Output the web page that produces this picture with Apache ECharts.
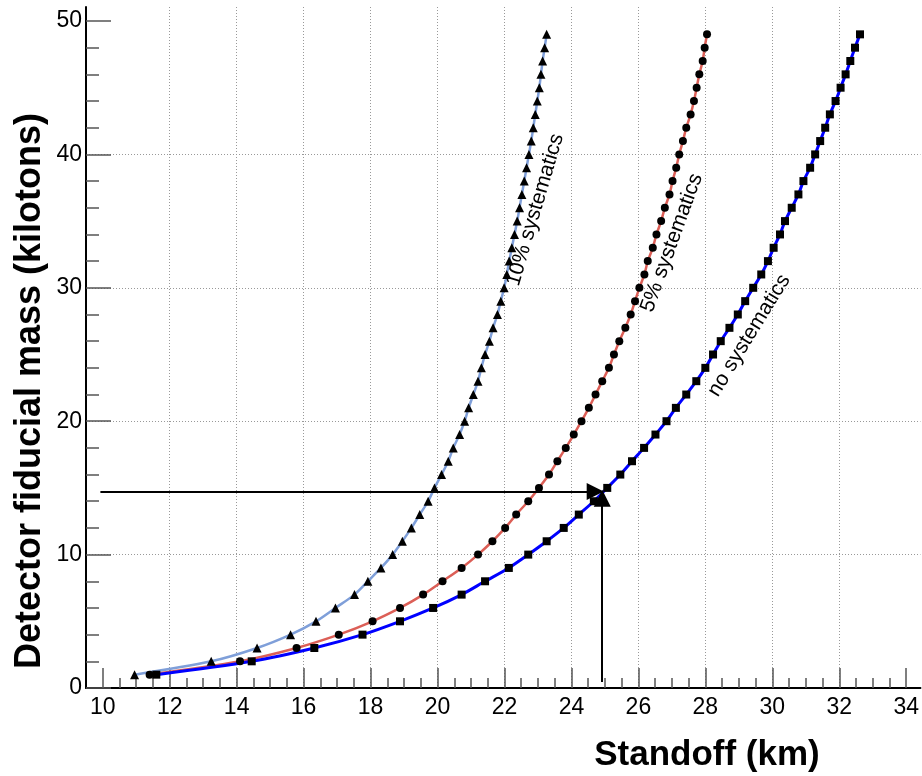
<!DOCTYPE html>
<html><head><meta charset="utf-8">
<script src="https://cdn.jsdelivr.net/npm/echarts@6/dist/echarts.min.js"></script>
<style>html,body{margin:0;padding:0;background:#fff}#c{width:922px;height:776px}</style>
</head><body><div id="c"></div>
<script>
// Detector fiducial mass (kilotons) for each point
const masses = [1,2,3,4,5,6,7,8,9,10,11,12,13,14,15,16,17,18,19,20,21,22,23,24,25,26,27,28,29,30,31,32,33,34,35,36,37,38,39,40,41,42,43,44,45,46,47,48,49];
// Standoff (km) — no systematics
const standoffNoSys = [11.60,14.45,16.32,17.76,18.88,19.87,20.72,21.42,22.13,22.71,23.26,23.77,24.22,24.67,25.07,25.46,25.81,26.17,26.51,26.84,27.12,27.43,27.73,28.00,28.23,28.46,28.72,28.97,29.19,29.43,29.67,29.87,30.04,30.23,30.38,30.58,30.78,30.93,31.13,31.28,31.43,31.58,31.72,31.89,32.04,32.19,32.33,32.47,32.62];
// Standoff (km) — 5% systematics
const standoff5 = [11.40,14.10,15.79,17.05,18.06,18.88,19.57,20.15,20.72,21.21,21.64,22.02,22.35,22.71,23.03,23.33,23.58,23.83,24.07,24.30,24.52,24.72,24.92,25.12,25.27,25.43,25.61,25.77,25.90,26.03,26.18,26.28,26.43,26.54,26.68,26.79,26.93,27.02,27.13,27.22,27.33,27.43,27.56,27.66,27.74,27.82,27.92,27.98,28.05];
// Standoff (km) — 10% systematics
const standoff10 = [10.95,13.24,14.61,15.61,16.37,16.95,17.52,17.92,18.31,18.66,18.95,19.22,19.47,19.72,19.91,20.12,20.32,20.47,20.66,20.81,20.93,21.07,21.21,21.31,21.42,21.55,21.66,21.79,21.89,21.99,22.07,22.14,22.22,22.30,22.38,22.45,22.52,22.59,22.66,22.73,22.80,22.86,22.92,22.98,23.04,23.09,23.14,23.20,23.26];
// tick labels
const xTicks = [10,12,14,16,18,20,22,24,26,28,30,32,34];
const yTicks = [0,10,20,30,40,50];
// arrow annotations (data coords)
const hArrow = [[9.93,14.73],[24.71,14.73]];
const vArrow = [[24.92,0.45],[24.92,14.22]];
// curve labels
const curveLabels = ['10% systematics','5% systematics','no systematics'];
const curveLabelCoords = [[22.92,35.84],[27.0,33.37],[29.31,26.43]];
const curveLabelAngles = [73.5,70,58.5];

function pts(xs){ return xs.map((x,i)=>[x, masses[i]]); }
const tickFont = "'Liberation Sans Narrow','Liberation Sans',Arial,sans-serif";
const chart = echarts.init(document.getElementById('c'), null, {renderer:'canvas'});
const tickLine = {color:'#555', width:1.5};
chart.setOption({
  animation:false,
  backgroundColor:'#fff',
  grid:{left:86, right:0, top:7, bottom:88},
  xAxis:{type:'value', min:9.5, max:34.425, splitNumber:12, minInterval:2, maxInterval:2,
    axisLine:{show:true, onZero:false, lineStyle:{color:'#000', width:2}},
    axisTick:{show:true, inside:true, length:20, customValues:xTicks, lineStyle:tickLine},
    minorTick:{show:true, splitNumber:4, length:10, lineStyle:tickLine},
    axisLabel:{customValues:xTicks, margin:8, fontSize:23, fontFamily:tickFont, color:'#000'},
    splitLine:{show:true, showMinLine:false, showMaxLine:false, lineStyle:{color:'#999', type:[1,2], width:1}}
  },
  yAxis:{type:'value', min:0, max:51.05, splitNumber:5, minInterval:10, maxInterval:10,
    axisLine:{show:true, onZero:false, lineStyle:{color:'#000', width:2}},
    axisTick:{show:true, inside:true, length:25, customValues:yTicks, lineStyle:tickLine},
    minorTick:{show:true, splitNumber:5, length:13, lineStyle:tickLine},
    axisLabel:{customValues:yTicks, margin:4, fontSize:23, fontFamily:tickFont, color:'#000'},
    splitLine:{show:true, showMinLine:false, showMaxLine:false, lineStyle:{color:'#999', type:[1,2], width:1}}
  },
  graphic:[
    {type:'text', x:30, y:391, rotation:Math.PI/2, style:{text:'Detector fiducial mass (kilotons)', fontSize:36, fontWeight:'bold', fontFamily:"'Liberation Sans',Arial,sans-serif", fill:'#000', align:'center', verticalAlign:'middle'}},
    {type:'text', x:707, y:755, style:{text:'Standoff (km)', fontSize:35, fontWeight:'bold', fontFamily:"'Liberation Sans',Arial,sans-serif", fill:'#000', align:'center', verticalAlign:'middle'}}
  ],
  series:[
    {type:'line', data:pts(standoff10), smooth:0.3, symbol:'triangle', symbolSize:9,
      lineStyle:{color:'#7f9fd9', width:2.5}, itemStyle:{color:'#000'}},
    {type:'line', data:pts(standoff5), smooth:0.3, symbol:'circle', symbolSize:8,
      lineStyle:{color:'#dc5f57', width:2.5}, itemStyle:{color:'#000'}},
    {type:'line', data:pts(standoffNoSys), smooth:0.3, symbol:'rect', symbolSize:8,
      lineStyle:{color:'#0000ff', width:3}, itemStyle:{color:'#000'},
      markLine:{silent:true, symbol:['none','triangle'], symbolSize:17,
        label:{show:false}, lineStyle:{color:'#000', width:2, type:'solid'},
        itemStyle:{color:'#000'},
        data:[
          [{coord:hArrow[0]},{coord:hArrow[1]}],
          [{coord:vArrow[0]},{coord:vArrow[1]}]
        ]},
      markPoint:{silent:true, symbol:'circle', symbolSize:0,
        data: curveLabels.map((t,i)=>({name:t, coord:curveLabelCoords[i],
          label:{show:true, formatter:t, position:'inside', rotate:curveLabelAngles[i], fontSize:21,
            fontFamily:"'Liberation Sans',Arial,sans-serif", color:'#000'}}))
      }
    }
  ]
});
</script></body></html>
